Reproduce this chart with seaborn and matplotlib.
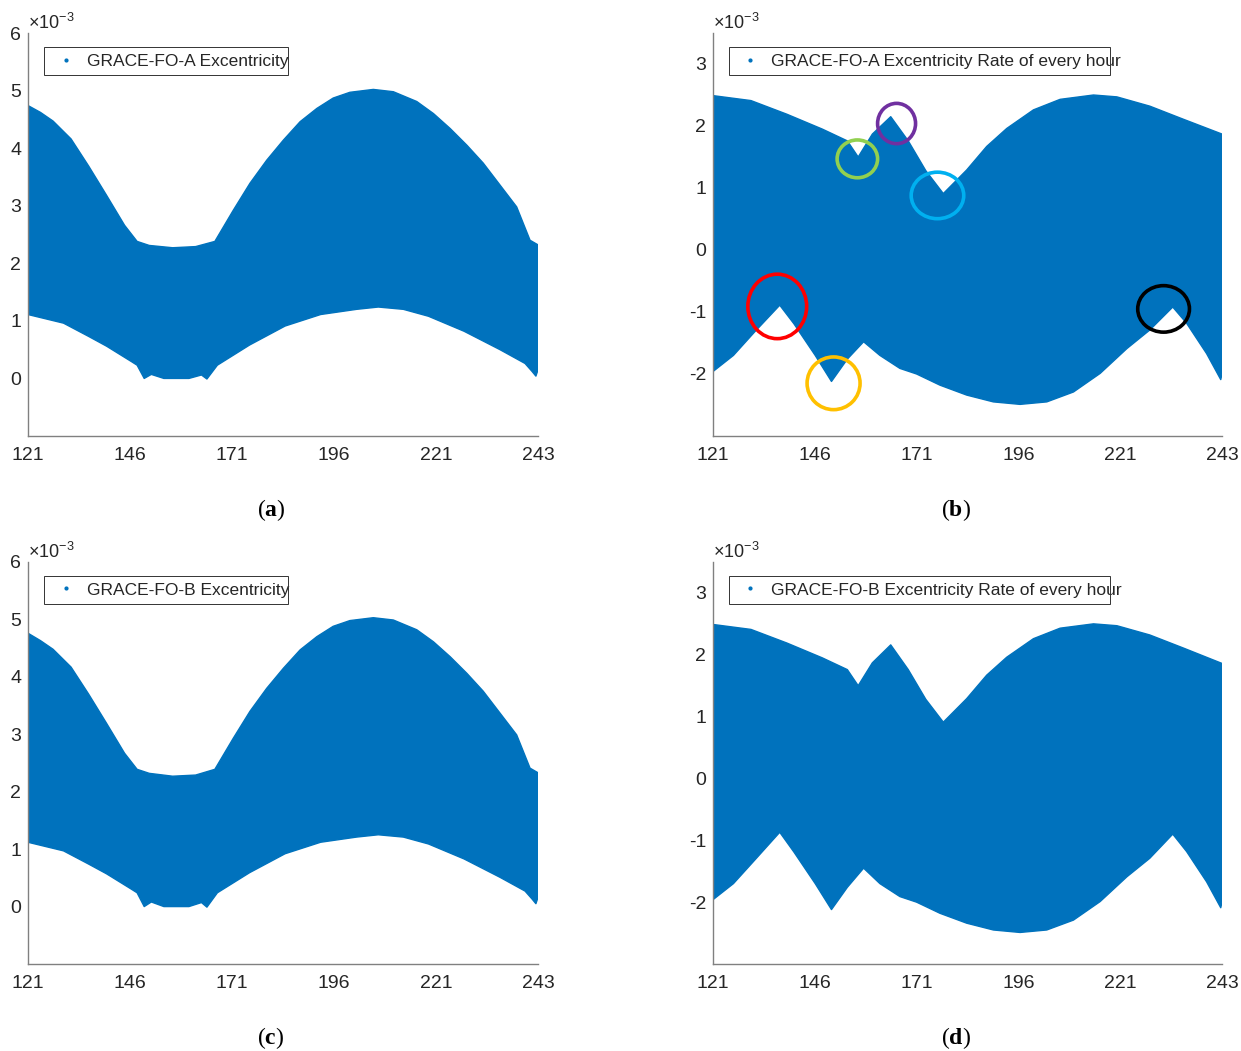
import numpy as np
import matplotlib
matplotlib.use("Agg")
import matplotlib.pyplot as plt
from matplotlib.lines import Line2D
from matplotlib.patches import Ellipse, Rectangle
import seaborn as sns

sns.set_theme(style="white")
plt.rcParams['font.family'] = ['Liberation Sans', 'DejaVu Sans']
plt.rcParams['mathtext.fontset'] = 'custom'
plt.rcParams['mathtext.rm'] = 'Liberation Sans'
plt.rcParams['mathtext.bf'] = 'Liberation Serif:bold'

# ---------------- data (units of 1e-3, day of year) ----------------
# tick marks are equally spaced along the axis, labelled as in the original
x_tick_pos = [121, 145.4, 169.8, 194.2, 218.6, 243]
x_tick_labels = ['121', '146', '171', '196', '221', '243']

# Excentricity envelope, GRACE-FO-A
ecc_a_upper_x = [121, 124, 127, 131.3, 135.5, 139.8, 144.1, 147.1, 150, 155.6, 161.1, 165.7, 170.1, 174.1,
                 178.1, 182.1, 186.1, 190.1, 194, 198, 203.6, 208.4, 214, 218, 222, 226, 229.9, 233.9,
                 237.9, 241.1, 243]
ecc_a_upper_y = [4.74, 4.62, 4.47, 4.16, 3.69, 3.18, 2.66, 2.38, 2.31, 2.27, 2.29, 2.38, 2.92, 3.39,
                 3.79, 4.14, 4.46, 4.69, 4.87, 4.97, 5.02, 4.98, 4.81, 4.60, 4.34, 4.05, 3.74, 3.36,
                 2.98, 2.40, 2.32]
ecc_a_lower_x = [121, 129.5, 135.5, 139.8, 145.8, 147.1, 148.8, 150.5, 153.5, 159.5, 162.5, 163.8, 166.3,
                 174, 182.5, 191, 199.6, 204.8, 210.8, 216.8, 225.3, 233.9, 239.9, 241.6, 242.5, 243]
ecc_a_lower_y = [1.11, 0.96, 0.73, 0.56, 0.29, 0.23, 0.0, 0.07, 0.0, 0.0, 0.06, -0.01, 0.23,
                 0.58, 0.91, 1.11, 1.20, 1.24, 1.20, 1.08, 0.82, 0.50, 0.26, 0.12, 0.04, 0.15]

# Excentricity envelope, GRACE-FO-B
ecc_b_upper_x = list(ecc_a_upper_x)
ecc_b_upper_y = [4.76, 4.63, 4.48, 4.17, 3.70, 3.19, 2.67, 2.39, 2.32, 2.27, 2.29, 2.39, 2.93, 3.40,
                 3.80, 4.15, 4.47, 4.70, 4.88, 4.98, 5.03, 4.99, 4.82, 4.61, 4.35, 4.06, 3.75, 3.37,
                 2.99, 2.41, 2.33]
ecc_b_lower_x = list(ecc_a_lower_x)
ecc_b_lower_y = [1.12, 0.97, 0.74, 0.57, 0.30, 0.24, 0.0, 0.08, 0.0, 0.0, 0.07, -0.01, 0.24,
                 0.59, 0.92, 1.12, 1.21, 1.25, 1.21, 1.09, 0.83, 0.51, 0.27, 0.13, 0.05, 0.16]

# Excentricity rate envelope, GRACE-FO-A
rate_a_upper_x = [121, 130.1, 138.7, 147.2, 153.2, 155.8, 159.2, 163.6, 167.8, 172, 176.2, 181.8, 186.6,
                  191.4, 197.8, 204.2, 212.2, 217.8, 225.7, 233.7, 243]
rate_a_upper_y = [2.49, 2.41, 2.19, 1.95, 1.76, 1.50, 1.87, 2.15, 1.76, 1.28, 0.91, 1.29, 1.67,
                  1.96, 2.26, 2.43, 2.50, 2.47, 2.32, 2.11, 1.87]
rate_a_lower_x = [121, 125.9, 131, 137, 140.4, 145.5, 149.4, 153.2, 157.1, 161, 165.8, 169.8, 175.4,
                  181.8, 188.2, 194.6, 201, 207.4, 213.8, 220.2, 225.7, 231.2, 234.5, 239.3, 242.7, 243]
rate_a_lower_y = [-1.96, -1.70, -1.32, -0.89, -1.19, -1.70, -2.12, -1.76, -1.48, -1.70, -1.91, -2.00, -2.18,
                  -2.34, -2.45, -2.49, -2.45, -2.29, -1.99, -1.59, -1.29, -0.92, -1.18, -1.67, -2.09, -2.00]

# Excentricity rate envelope, GRACE-FO-B
rate_b_upper_x = list(rate_a_upper_x)
rate_b_upper_y = [2.49, 2.41, 2.19, 1.95, 1.76, 1.50, 1.87, 2.16, 1.76, 1.28, 0.91, 1.29, 1.67,
                  1.96, 2.26, 2.43, 2.50, 2.47, 2.32, 2.11, 1.86]
rate_b_lower_x = list(rate_a_lower_x)
rate_b_lower_y = [-1.96, -1.70, -1.32, -0.87, -1.19, -1.70, -2.12, -1.76, -1.45, -1.70, -1.91, -2.00, -2.18,
                  -2.34, -2.45, -2.49, -2.45, -2.29, -1.99, -1.59, -1.29, -0.90, -1.18, -1.67, -2.09, -2.00]

# highlighted features in panel (b): centre x, centre y, width (days), height, colour
circle_x = [155.6, 165.0, 174.8, 136.4, 149.9, 229.0]
circle_y = [1.47, 2.04, 0.88, -0.91, -2.15, -0.95]
circle_w = [9.7, 9.1, 12.6, 14.1, 12.7, 12.4]
circle_h = [0.61, 0.65, 0.75, 1.04, 0.85, 0.75]
circle_c = ['#92D050', '#7030A0', '#00B0F0', '#FF0000', '#FFC000', '#000000']

legends = ['GRACE-FO-A Excentricity', 'GRACE-FO-A Excentricity Rate of every hour',
           'GRACE-FO-B Excentricity', 'GRACE-FO-B Excentricity Rate of every hour']
panel_letters = ['a', 'b', 'c', 'd']

# ---------------- drawing ----------------
BLUE = '#0072BD'
W, H = 1241, 1051
fig = plt.figure(figsize=(W / 100, H / 100), dpi=100)

def frac(l, t, r, b):
    return [l / W, 1 - b / H, (r - l) / W, (b - t) / H]

rects = [frac(28, 33, 538, 436), frac(713, 33, 1222, 436),
         frac(28, 562, 538, 964), frac(713, 562, 1222, 964)]
series = [(ecc_a_upper_x, ecc_a_upper_y, ecc_a_lower_x, ecc_a_lower_y),
          (rate_a_upper_x, rate_a_upper_y, rate_a_lower_x, rate_a_lower_y),
          (ecc_b_upper_x, ecc_b_upper_y, ecc_b_lower_x, ecc_b_lower_y),
          (rate_b_upper_x, rate_b_upper_y, rate_b_lower_x, rate_b_lower_y)]
ylims = [(-1, 6), (-3, 3.5), (-1, 6), (-3, 3.5)]
yticks = [list(range(0, 7)), list(range(-2, 4)), list(range(0, 7)), list(range(-2, 4))]
label_pos = [(271, 510), (956, 510), (271, 1038), (956, 1038)]
leg_box_w = [0.479, 0.749, 0.479, 0.749]
leg_anchor_x = [0.0575, 0.0556, 0.0575, 0.0556]

for i in range(4):
    ax = fig.add_axes(rects[i])
    ux, uy, lx, ly = series[i]
    px = np.concatenate([ux, lx[::-1]])
    py = np.concatenate([uy, ly[::-1]])
    ax.fill(px, py, color=BLUE, lw=0)
    sns.lineplot(x=ux, y=uy, ax=ax, color=BLUE, lw=1, sort=False)
    sns.lineplot(x=lx, y=ly, ax=ax, color=BLUE, lw=1, sort=False)
    ax.set_xlim(121, 243)
    ax.set_ylim(*ylims[i])
    ax.set_xticks(x_tick_pos)
    ax.set_xticklabels(x_tick_labels)
    ax.set_yticks(yticks[i])
    ax.set_yticklabels([str(v) for v in yticks[i]])
    for s in ['top', 'right']:
        ax.spines[s].set_visible(False)
    for s in ['left', 'bottom']:
        ax.spines[s].set_color('#808080')
        ax.spines[s].set_linewidth(1.0)
    ax.tick_params(direction='in', length=5, width=0.8, colors='#808080',
                   labelcolor='#262626', labelsize=14)
    ax.tick_params(axis='x', pad=8)
    ax.tick_params(axis='y', pad=5)
    ax.set_facecolor('white')
    ax.text(0.0, 1.0, r'$\times10^{-3}$', transform=ax.transAxes, fontsize=13,
            color='#262626', ha='left', va='bottom')
    h = Line2D([], [], ls='none', marker='.', ms=4, color=BLUE)
    leg = ax.legend([h], [legends[i]], loc='center left', bbox_to_anchor=(leg_anchor_x[i], 0.9305),
                    fontsize=12.5, frameon=False, borderaxespad=0, borderpad=0,
                    handlelength=1.0, handletextpad=0.71)
    for t in leg.get_texts():
        t.set_color('#262626')
    ax.add_patch(Rectangle((0.031, 0.896), leg_box_w[i], 0.069, transform=ax.transAxes,
                           fill=False, edgecolor='#333333', lw=0.7, zorder=6))
    if i == 1:
        for cx, cy, cw, ch, cc in zip(circle_x, circle_y, circle_w, circle_h, circle_c):
            ax.add_patch(Ellipse((cx, cy), cw, ch, fill=False, edgecolor=cc, lw=2.6, zorder=5))
    lx_, ly_ = label_pos[i]
    fig.text(lx_ / W, 1 - ly_ / H, '(' + r'$\mathbf{' + panel_letters[i] + '}$' + ')',
             family='Liberation Serif', fontsize=17, ha='center', va='center', color='black')

fig.savefig('out.png', dpi=100, facecolor='white')
